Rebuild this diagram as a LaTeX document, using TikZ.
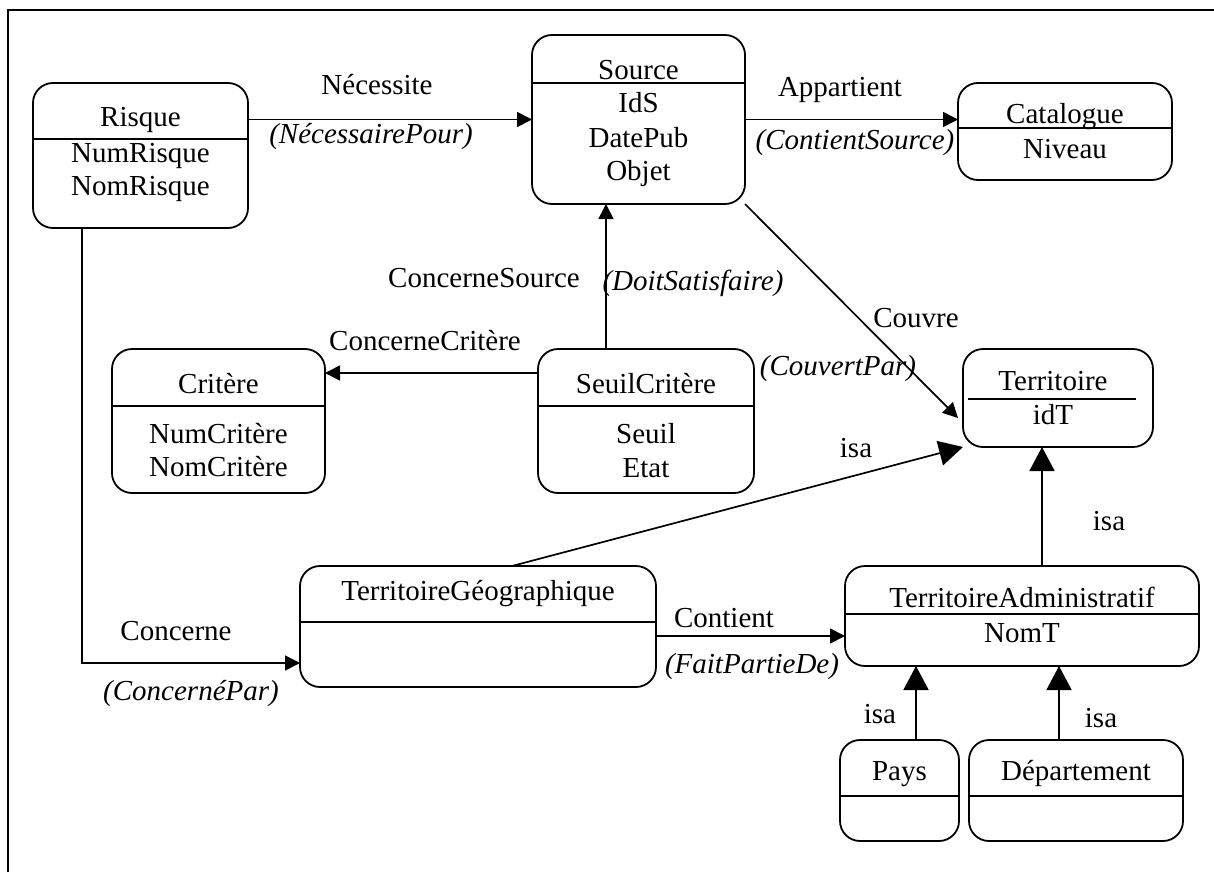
\documentclass[tikz,border=0pt]{standalone}
\usepackage{fontspec}
\setmainfont{Liberation Serif}
\usetikzlibrary{arrows.meta}
\tikzset{
  entity/.style={draw, line width=1.8pt, rounded corners=20pt, inner sep=0pt, outer sep=0pt},
  divl/.style={line width=1.8pt},
  txt/.style={anchor=base, inner sep=0pt, font=\fontsize{29}{33}\selectfont},
  itxt/.style={anchor=base, inner sep=0pt, font=\fontsize{29}{33}\selectfont\itshape},
  conn/.style={line width=1.7pt, -{Triangle[length=15pt,width=15pt]}},
  isaconn/.style={line width=1.7pt, -{Triangle[length=24pt,width=25pt]}},
  framel/.style={line width=2.2pt},
}
% name, x1, y1, x2, y2, divider y
\newcommand{\entbox}[6]{%
  \node[entity, minimum width={#4-#2}, minimum height={#5-#3}] (#1) at ({(#2+#4)/2},{(#3+#5)/2}) {};
  \draw[divl] (#2,#6) -- (#4,#6);
}
\begin{document}
\begin{tikzpicture}[x=1pt,y=-1pt]
\useasboundingbox (0,0) rectangle (1214,872);
% frame (top and left edges)
\draw[framel] (8,872) -- (8,10) -- (1214,10);

% entities
\entbox{risque}{33}{83}{248}{228}{139}
\node[txt] (risqueT) at (140.5,127) {Risque};
\node[txt] (risqueA1) at (140.5,162) {NumRisque};
\node[txt] (risqueA2) at (140.5,195) {NomRisque};

\entbox{source}{532}{35}{745}{204}{83}
\node[txt] (sourceT) at (638.5,80) {Source};
\node[txt] (sourceA1) at (638.5,113) {IdS};
\node[txt] (sourceA2) at (638.5,147) {DatePub};
\node[txt] (sourceA3) at (638.5,180) {Objet};

\entbox{catalogue}{958}{83}{1172}{180}{128}
\node[txt] (catalogueT) at (1065,124) {Catalogue};
\node[txt] (catalogueA1) at (1065,158) {Niveau};

\entbox{critere}{112}{349}{325}{493}{406}
\node[txt] (critereT) at (218.5,393) {Critère};
\node[txt] (critereA1) at (218.5,443) {NumCritère};
\node[txt] (critereA2) at (218.5,476) {NomCritère};

\entbox{seuil}{538}{349}{754}{493}{406}
\node[txt] (seuilT) at (646,393) {SeuilCritère};
\node[txt] (seuilA1) at (646,443) {Seuil};
\node[txt] (seuilA2) at (646,477) {Etat};

\node[entity, minimum width=190, minimum height=98] (territoire) at (1058,398) {};
\draw[divl] (968,399) -- (1136,399);
\node[txt] (territoireT) at (1053,390) {Territoire};
\node[txt] (territoireA1) at (1053,424) {idT};

\entbox{tg}{300}{566}{656}{687}{622}
\node[txt] (tgT) at (478,600) {TerritoireGéographique};

\entbox{ta}{845}{566}{1199}{666}{614}
\node[txt] (taT) at (1022,607) {TerritoireAdministratif};
\node[txt] (taA1) at (1022,642) {NomT};

\entbox{pays}{840}{740}{959}{841}{796}
\node[txt] (paysT) at (899.5,780) {Pays};

\entbox{dep}{969}{740}{1183}{841}{796}
\node[txt] (depT) at (1076,780) {Département};

% connectors
\draw[conn] (risque.east |- source.west) -- (source.west);
\node[txt] (l1) at (377,95) {Nécessite};
\node[itxt] (l1i) at (371,143) {(NécessairePour)};

\draw[conn] (source.east) -- (catalogue.west |- source.east);
\node[txt] (l2) at (840,97) {Appartient};
\node[itxt] (l2i) at (855,149) {(ContientSource)};

\draw[conn] ([xshift=-40pt]seuil.north) coordinate (s1) -- (s1 |- source.south);
\node[txt] (l3) at (484,287) {ConcerneSource};
\node[itxt] (l3i) at (693,290) {(DoitSatisfaire)};

\draw[conn] ([yshift=48pt]seuil.west) coordinate (s2) -- (critere.east |- s2);
\node[txt] (l4) at (425,350) {ConcerneCritère};

\draw[conn] (source.south east) -- ([xshift=-5pt,yshift=-20pt]territoire.west);
\node[txt] (l5) at (916,327) {Couvre};
\node[itxt] (l5i) at (838,375) {(CouvertPar)};

\draw[isaconn] ([xshift=34pt]tg.north) -- (territoire.south west);
\node[txt] (l6) at (856,457) {isa};

\draw[isaconn] ([xshift=20pt]ta.north) coordinate (s3) -- (s3 |- territoire.south);
\node[txt] (l7) at (1109,530) {isa};

\draw[conn] ([xshift=-58.5pt]risque.south) |- ([yshift=-36.5pt]tg.west);
\node[txt] (l8) at (176,640) {Concerne};
\node[itxt] (l8i) at (191,700) {(ConcernéPar)};

\draw[conn] ([yshift=-9.5pt]tg.east) coordinate (s4) -- (ta.west |- s4);
\node[txt] (l9) at (724,627) {Contient};
\node[itxt] (l9i) at (752,673) {(FaitPartieDe)};

\draw[isaconn] ([xshift=16.5pt]pays.north) coordinate (s5) -- (s5 |- ta.south);
\node[txt] (l10) at (880,723) {isa};

\draw[isaconn] ([xshift=-17pt]dep.north) coordinate (s6) -- (s6 |- ta.south);
\node[txt] (l11) at (1101,727) {isa};
\end{tikzpicture}
\end{document}
